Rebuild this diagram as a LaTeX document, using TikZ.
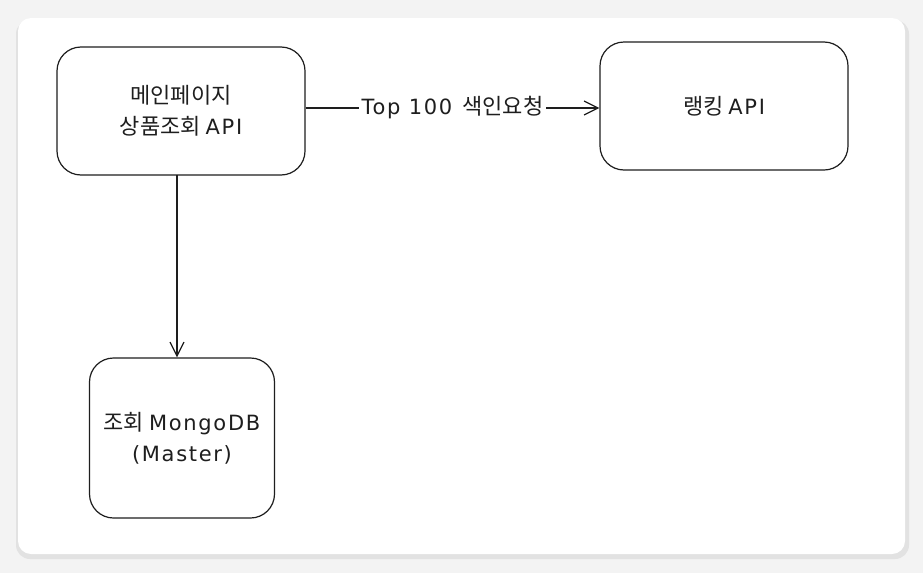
\documentclass[tikz,border=0pt]{standalone}
\usepackage{fontspec}
\setmainfont{Noto Sans CJK KR}
\newfontfamily\latinhand[LetterSpace=8]{DejaVu Sans}
\usetikzlibrary{positioning,arrows.meta}

\definecolor{bgpage}{HTML}{F3F3F3}
\definecolor{shadowgray}{HTML}{E2E2E2}
\definecolor{inkline}{HTML}{1E1E1E}

\newcommand{\lt}[1]{{\latinhand\fontsize{21pt}{31pt}\selectfont #1}}

\tikzset{
  svcbox/.style={draw=inkline, line width=1.2pt, rounded corners=24pt, fill=white,
    align=center, font=\fontsize{22pt}{31pt}\selectfont, text=inkline, inner sep=0pt},
  flow/.style={draw=inkline, line width=1.2pt, -{Straight Barb[length=14pt,width=14pt,line width=1.2pt]}},
  flowlabel/.style={fill=white, font=\fontsize{22pt}{26pt}\selectfont, text=inkline, inner sep=3pt}
}

\begin{document}
\begin{tikzpicture}[x=1pt, y=-1pt]
  % page and card
  \fill[bgpage] (0,0) rectangle (923,573);
  \useasboundingbox (0,0) rectangle (923,573);
  \fill[shadowgray, rounded corners=14pt] (16,20) rectangle (909,559);
  \fill[white, rounded corners=13pt] (18,18) rectangle (905,554);

  \node[svcbox, minimum width=248pt, minimum height=128pt] (main) at (181,111) {메인페이지\\상품조회 \lt{API}};
  \node[svcbox, minimum width=248pt, minimum height=128pt] (rank) at (724,106) {랭킹 \lt{API}};
  \node[svcbox, minimum width=185pt, minimum height=160pt] (mongo) at (182,438) {조회 \lt{MongoDB}\\\lt{(Master)}};

  \draw[flow] (main.east |- 0,108) -- node[flowlabel] (toplabel) {\lt{Top 100}\hspace{10pt}색인요청} (rank.west |- 0,108);
  \draw[flow] (177,175) -- (mongo.north -| 177,0);
\end{tikzpicture}
\end{document}
